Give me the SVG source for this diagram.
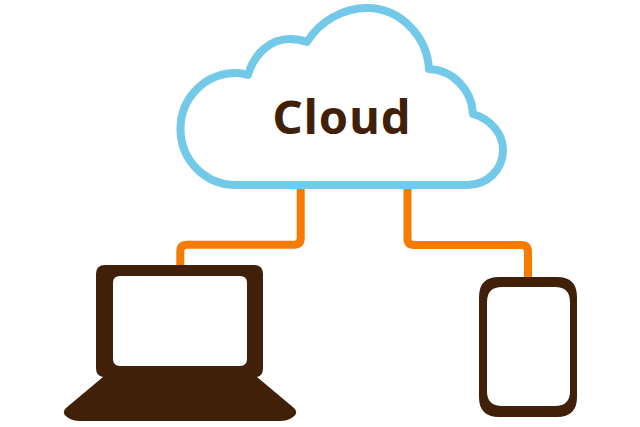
<svg xmlns="http://www.w3.org/2000/svg" width="640" height="427" viewBox="0 0 640 427">
<style>
.conn{fill:none;stroke:#f57c00;stroke-width:8}
.dark{fill:#402008}
</style>
<rect width="640" height="427" fill="#fff"/>
<g id="connectors">
<path class="conn" d="M300.700 185V238Q300.700 244.700 294 244.700H187Q180.300 244.700 180.300 251.400V268"/>
<path class="conn" d="M407.500 185V238Q407.500 245 414 245H521Q528 245 528 252V280"/>
</g>
<g id="cloud">
<path d="M236 185C205 185 180.500 160 180.500 129C180.500 98 205 73 236 73Q242 73 248 75C254 54 270 39 290 39Q299 39 307 42C320 21 343 8 367 8C400 8 427 36 429 69C453 70 472 90 473 114C490 119 503 133 503 150C503 170 487 185 467 185Z" fill="#fff" stroke="#72c9e8" stroke-width="8" stroke-linejoin="round"/>
<text x="342" y="133.500" text-anchor="middle" font-family="'Noto Sans','Open Sans',sans-serif" font-weight="700" font-size="47" letter-spacing="1" fill="#402008">Cloud</text>
</g>
<g id="laptop">
<path class="dark" fill-rule="evenodd" d="M105 265H254Q263 265 263 274V368Q263 376 257 377L294 408Q299 413 293 417Q288 421 280 421H80Q72 421 67 417Q61 413 66 408L103 377Q96 376 96 368V274Q96 265 105 265ZM120 276Q113 276 113 283V359Q113 366 120 366H240Q247 366 247 359V283Q247 276 240 276Z"/>
</g>
<g id="tablet">
<path class="dark" fill-rule="evenodd" d="M499 277H557Q577 277 577 297V397Q577 417 557 417H499Q479 417 479 397V297Q479 277 499 277ZM502 287Q487 287 487 302V391Q487 406 502 406H555Q570 406 570 391V302Q570 287 555 287Z"/>
</g>
</svg>
